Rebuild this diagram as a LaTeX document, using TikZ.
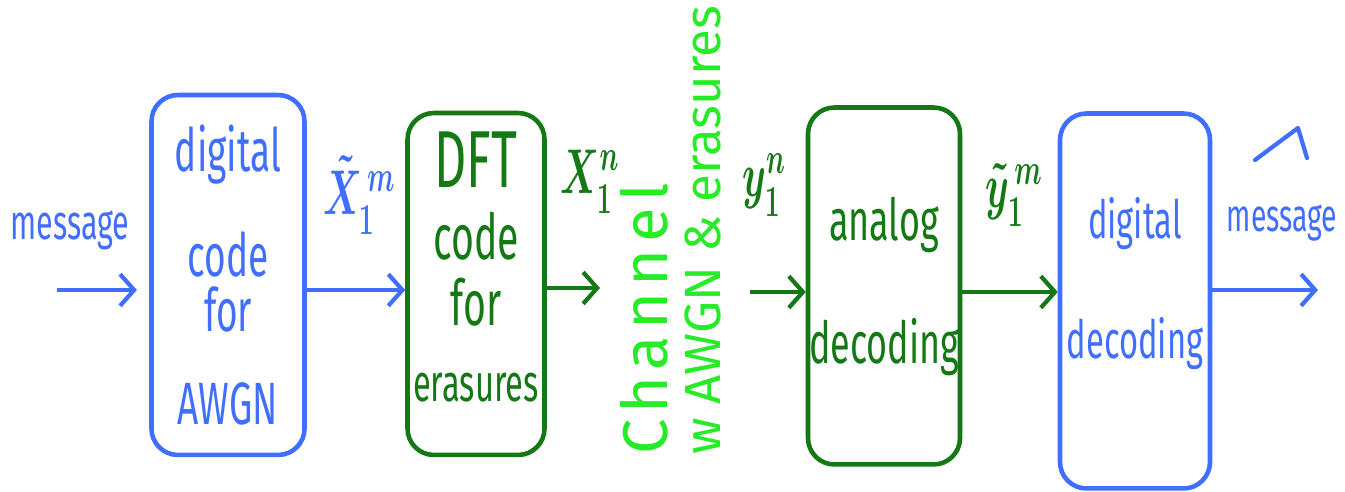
\RequirePackage{fix-cm}
\documentclass[tikz,border=0pt]{standalone}
\usepackage{fontspec}
\usepackage{amsmath}
\usepackage{xcolor}
\setmainfont{Fira Sans}[FakeStretch=0.62]
\newfontfamily\chanfont{Fira Sans}[LetterSpace=10]
\newfontfamily\widefont{Fira Sans}
\usetikzlibrary{arrows.meta}
\definecolor{encblue}{RGB}{64,110,255}
\definecolor{boxgreen}{RGB}{20,120,20}
\definecolor{chanlime}{RGB}{40,235,40}
\newcommand{\handfs}[2]{\fontsize{#1}{#2}\selectfont}
\newcommand{\narrowlbl}[1]{\scalebox{0.6}[1]{#1}}

\begin{document}
\begin{tikzpicture}[x=0.02cm,y=-0.02cm,
    codebox/.style={draw,rounded corners=15pt,line width=2.6pt,align=center,inner sep=0pt},
    bluebox/.style={codebox,draw=encblue,text=encblue},
    greenbox/.style={codebox,draw=boxgreen,text=boxgreen},
    flow/.style={line width=2.4pt,-{Straight Barb[length=8pt,width=18pt]}}]
    \useasboundingbox (0,0) rectangle (1345,492);

    % Draw the four blocks
    \node[bluebox,minimum width=3.06cm,minimum height=7.2cm,font={\handfs{34}{31}}] (enc) at (228,275)
        {digital\\[26pt]code\\for\\[22pt]AWGN};
    \node[greenbox,minimum width=2.74cm,minimum height=6.84cm,font={\handfs{36}{31}},text depth=20pt] (dft) at (476,284)
        {{\handfs{46}{46}DFT}\\[10pt]code\\[7pt]for\\[12pt]{\handfs{30}{30}erasures}};
    \node[greenbox,minimum width=3.04cm,minimum height=7.14cm,font={\handfs{33}{33}}] (ana) at (884,286)
        {analog\\[37pt]decoding};
    \node[bluebox,minimum width=3.0cm,minimum height=7.5cm,font={\handfs{30}{30}},text depth=26pt] (dec) at (1135,301)
        {digital\\[38pt]decoding};

    % Draw the channel text
    \node[chanlime,rotate=90,anchor=north west,align=left,inner sep=0pt,
        font={\handfs{29}{30}}] (chan) at (620,455)
        {{\chanfont\handfs{36}{36}Channel}\\{\widefont w AWGN \& erasures}};

    % Free ends of the arrows
    \coordinate (src) at (57,290);
    \coordinate (chin) at (600,288);
    \coordinate (chout) at (750,292);
    \coordinate (sink) at (1318,290);

    % Draw the arrows
    \draw[flow,encblue,shorten >=7pt] (src) -- (enc.west |- src);
    \draw[flow,encblue] (enc.east |- src) -- (dft.west |- src);
    \draw[flow,boxgreen] (dft.east |- chin) -- (chin);
    \draw[flow,boxgreen] (chout) -- (ana.west |- chout);
    \draw[flow,boxgreen] (ana.east |- chout) -- (dec.west |- chout);
    \draw[flow,encblue] (dec.east |- sink) -- (sink);

    % Labels on the arrows
    \node[encblue,anchor=base,font={\handfs{28}{28}}] (msgin) at (70,240) {message};
    \node[encblue,font={\handfs{36}{36}\boldmath}] (xenc) at (359,195) {\narrowlbl{$\tilde{X}_1^{\,m}$}};
    \node[boxgreen,font={\handfs{36}{36}\boldmath}] (xdft) at (590,182) {\narrowlbl{$X_1^n$}};
    \node[boxgreen,font={\handfs{36}{36}\boldmath}] (ych) at (764,185) {\narrowlbl{$y_1^n$}};
    \node[boxgreen,font={\handfs{36}{36}\boldmath}] (yana) at (1014,195) {\narrowlbl{$\tilde{y}_1^{\,m}$}};
    \node[encblue,anchor=base,font={\handfs{26}{26}}] (msgout) at (1282,232) {message};

    % Hat over the decoded message
    \draw[encblue,line width=2.4pt,line cap=round,line join=round]
        (msgout.base) ++(-27,-72) -- ++(43,-32) -- ++(9,30);
\end{tikzpicture}
\end{document}
